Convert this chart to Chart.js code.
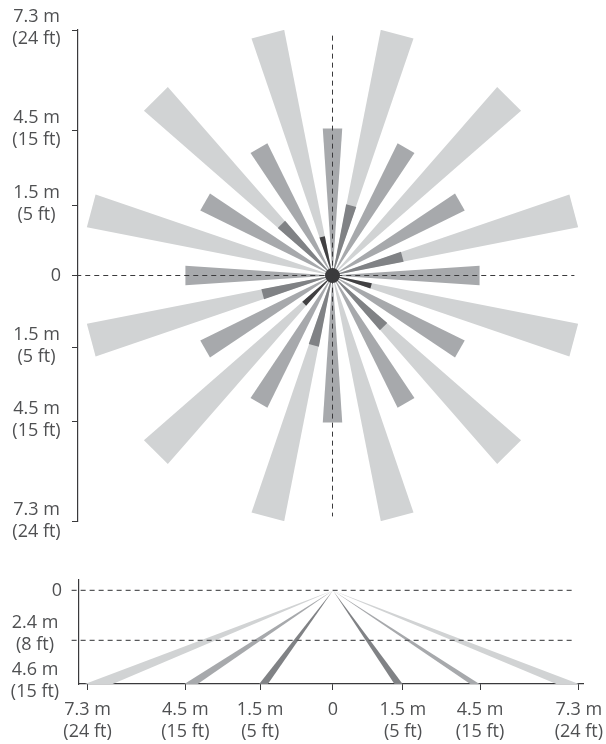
<!DOCTYPE html>
<html>
<head>
<meta charset="utf-8">
<script src="https://cdn.jsdelivr.net/npm/chart.js"></script>
<style>
  html, body { margin: 0; padding: 0; background: #fff; }
  canvas { position: absolute; left: 0; }
  #plan-chart { top: 0; }
  #side-chart { top: 560px; }
</style>
</head>
<body>
<canvas id="plan-chart" width="606" height="560"></canvas>
<canvas id="side-chart" width="606" height="184"></canvas>
<script>
// Plan view: one list per ring of beams. Bearings in degrees clockwise from north,
// reach and beam width in diagram units (the drawing is not to scale, 24 ft = 24 units)
const lightBearings = [15, 45, 75, 105, 135, 165, 195, 225, 255, 285, 315, 345];
const lightReach = 24.37;
const lightWidth = 3.3;

const midBearings = [0, 30, 60, 90, 120, 150, 180, 210, 240, 270, 300, 330];
const midReach = 14.35;
const midWidth = 1.9;

const deepBearings = [15, 75, 135, 195, 255, 315];
const deepReach = 7.05;
const deepWidth = 1.02;

const darkBearings = [105, 225, 345];
const darkReach = 3.9;
const darkWidth = 0.54;

const planTickValues = [23.95, 14.15, 6.83, 0, -7.07, -14.2, -23.95];
const planTickLabels = [
  ['7.3 m', '(24 ft)'], ['4.5 m', '(15 ft)'], ['1.5 m', '(5 ft)'], ['0'],
  ['1.5 m', '(5 ft)'], ['4.5 m', '(15 ft)'], ['7.3 m', '(24 ft)'],
];

// Side view: mounting height at 0, beams land on the floor at 15 ft
const sideHeightTicks = [0, 8, 15];
const sideHeightLabels = [['0'], ['2.4 m', '(8 ft)'], ['4.6 m', '(15 ft)']];
const sideReachTicks = [-23.95, -14.4, -7.1, 0, 6.83, 14.35, 24];
const sideReachLabels = [
  ['7.3 m', '(24 ft)'], ['4.5 m', '(15 ft)'], ['1.5 m', '(5 ft)'], ['0'],
  ['1.5 m', '(5 ft)'], ['4.5 m', '(15 ft)'], ['7.3 m', '(24 ft)'],
];
const sideLightFloor = [[-24.2, -21.5], [21.8, 24]];
const sideMidFloor = [[-14.5, -13.2], [13.4, 14.3]];
const sideDeepFloor = [[-7.2, -6.35], [6.0, 6.8]];
const sideFloorHeight = 15;

const LIGHT = '#d1d3d4';
const MID = '#a7a9ac';
const DEEP = '#808285';
const DARK = '#414042';
const TEXT = '#4f5052';
const AXIS = '#3a3a3c';
const FONT = '"Open Sans", sans-serif';
const FONT_SIZE = 18;

function polygon(points, color, order) {
  return {
    data: points,
    showLine: true,
    fill: 'shape',
    backgroundColor: color,
    borderWidth: 0,
    pointRadius: 0,
    order: order,
  };
}

// beam pointing out from the sensor, flat at the far end
function beam(bearing, reach, width, color, order) {
  const a = bearing * Math.PI / 180;
  const ux = Math.sin(a), uy = Math.cos(a);
  const half = width / 2;
  return polygon([
    { x: 0, y: 0 },
    { x: ux * reach + uy * half, y: uy * reach - ux * half },
    { x: ux * reach - uy * half, y: uy * reach + ux * half },
    { x: 0, y: 0 },
  ], color, order);
}

function dashed(points, color, width) {
  return {
    data: points,
    showLine: true,
    fill: false,
    borderColor: color,
    borderWidth: width,
    borderDash: [5, 4],
    pointRadius: 0,
    clip: false,
    order: 1,
  };
}

// Two-line labels are centred on each other, so they are written here, not by the axis
function labelPlugin(values, labels, centerX, loneX, shifts) {
  return {
    id: 'heightLabels',
    afterDraw(chart) {
      const ctx = chart.ctx;
      const scale = chart.scales.y;
      ctx.save();
      ctx.font = FONT_SIZE + 'px ' + FONT;
      ctx.fillStyle = TEXT;
      ctx.textAlign = 'center';
      ctx.textBaseline = 'middle';
      values.forEach((v, i) => {
        const y = scale.getPixelForValue(v) + shifts[i];
        if (labels[i].length === 1) {
          ctx.fillText(labels[i][0], loneX, y);
        } else {
          ctx.fillText(labels[i][0], centerX, y - 11);
          ctx.fillText(labels[i][1], centerX, y + 11);
        }
      });
      ctx.restore();
    },
  };
}

const baseOptions = {
  responsive: false,
  animation: false,
  events: [],
  plugins: { legend: { display: false }, tooltip: { enabled: false } },
};

const planDatasets = [
  ...lightBearings.map((b) => beam(b, lightReach, lightWidth, LIGHT, 6)),
  ...midBearings.map((b) => beam(b, midReach, midWidth, MID, 5)),
  ...deepBearings.map((b) => beam(b, deepReach, deepWidth, DEEP, 4)),
  ...darkBearings.map((b) => beam(b, darkReach, darkWidth, DARK, 3)),
  {
    data: [{ x: 0, y: 0 }],
    pointRadius: 7.5,
    pointBackgroundColor: '#3a3a3c',
    pointBorderWidth: 0,
    order: 2,
  },
  dashed([{ x: -25, y: 0 }, { x: 23.6, y: 0 }], AXIS, 1),
  dashed([{ x: 0, y: 23.4 }, { x: 0, y: -23.5 }], AXIS, 1),
];

new Chart(document.getElementById('plan-chart'), {
  type: 'scatter',
  data: { datasets: planDatasets },
  plugins: [labelPlugin(planTickValues, planTickLabels, 36.5, 56, [-2, -2, -1.5, 0, -2, -1, 0])],
  options: {
    ...baseOptions,
    layout: { padding: { top: 30, bottom: 39, right: 19, left: 0 } },
    scales: {
      x: { type: 'linear', display: false, min: -24.83, max: 24.83 },
      y: {
        type: 'linear',
        min: -23.95,
        max: 23.95,
        afterFit: (s) => { s.width = 78; },
        afterBuildTicks: (s) => { s.ticks = planTickValues.map((value) => ({ value })); },
        ticks: { display: false },
        border: { color: AXIS, width: 1.2 },
        grid: { drawOnChartArea: false, drawTicks: true, tickLength: 6, tickColor: AXIS, tickWidth: 1 },
      },
    },
  },
});

function floorBeam(floor, color, order) {
  return polygon([
    { x: 0, y: 0 },
    { x: floor[0], y: sideFloorHeight },
    { x: floor[1], y: sideFloorHeight },
    { x: 0, y: 0 },
  ], color, order);
}

const sideDatasets = [
  ...sideLightFloor.map((f) => floorBeam(f, LIGHT, 4)),
  ...sideMidFloor.map((f) => floorBeam(f, MID, 3)),
  ...sideDeepFloor.map((f) => floorBeam(f, DEEP, 2)),
  dashed([{ x: -25.5, y: 0 }, { x: 23.6, y: 0 }], '#58595b', 1.2),
  dashed([{ x: -25.5, y: 8 }, { x: 23.6, y: 8 }], '#58595b', 1.2),
];

new Chart(document.getElementById('side-chart'), {
  type: 'scatter',
  data: { datasets: sideDatasets },
  plugins: [labelPlugin(sideHeightTicks, sideHeightLabels, 35, 57, [0, -6, -3])],
  options: {
    ...baseOptions,
    layout: { padding: { top: 20, bottom: 0, right: 23, left: 0 } },
    scales: {
      x: {
        type: 'linear',
        position: 'bottom',
        min: -24.83,
        max: 24.4,
        afterFit: (s) => { s.height = 60; s.paddingLeft = 0; s.paddingRight = 0; },
        afterBuildTicks: (s) => { s.ticks = sideReachTicks.map((value) => ({ value })); },
        afterTickToLabelConversion: (s) => { s.ticks.forEach((t, i) => { t.label = sideReachLabels[i]; }); },
        ticks: {
          autoSkip: false,
          maxRotation: 0,
          color: TEXT,
          padding: 9,
          font: { family: FONT, size: FONT_SIZE, lineHeight: 1.22 },
        },
        border: { color: AXIS, width: 1.2 },
        grid: { drawOnChartArea: false, drawTicks: true, tickLength: 6, tickColor: AXIS, tickWidth: 1 },
      },
      y: {
        type: 'linear',
        reverse: true,
        min: -1.67,
        max: 15,
        afterFit: (s) => { s.width = 78.5; },
        afterBuildTicks: (s) => { s.ticks = sideHeightTicks.map((value) => ({ value })); },
        ticks: { display: false },
        border: { color: AXIS, width: 1.2 },
        grid: { display: true, drawOnChartArea: false, drawTicks: false },
      },
    },
  },
});
</script>
</body>
</html>
